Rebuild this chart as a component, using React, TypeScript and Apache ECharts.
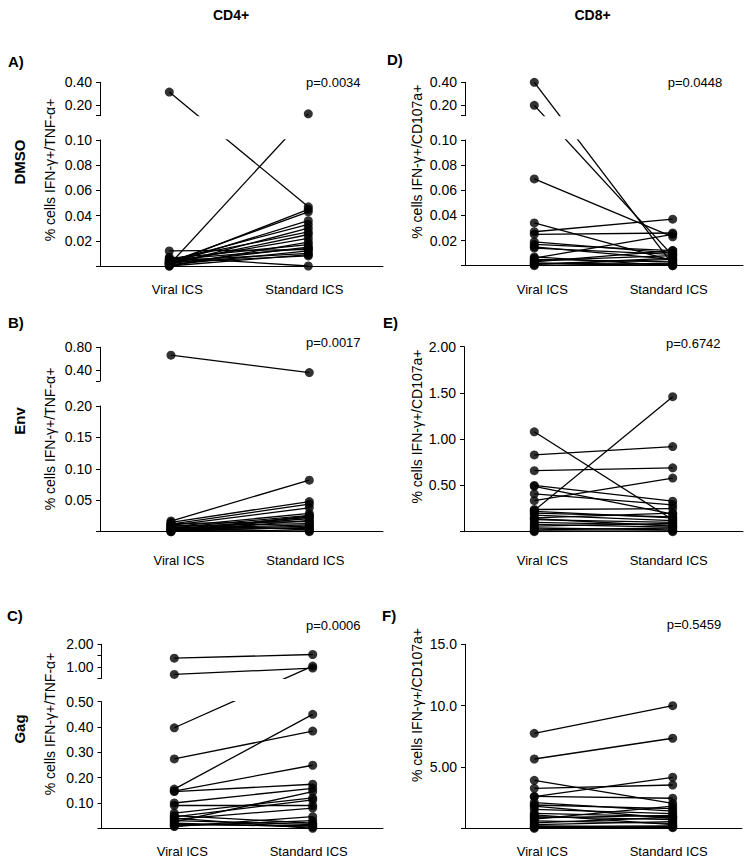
import React, { useEffect, useRef } from 'react';
import * as echarts from 'echarts';

// ---------- data ----------
const conditions = ['Viral ICS', 'Standard ICS'];
const columnLabels = ['CD4+', 'CD8+'];
const rowLabels = ['DMSO', 'Env', 'Gag'];
const panelLetters = ['A)', 'B)', 'C)', 'D)', 'E)', 'F)'];
const pValueLabels = ['p=0.0034', 'p=0.0017', 'p=0.0006', 'p=0.0448', 'p=0.6742', 'p=0.5459'];
const cd4AxisTitle = '% cells IFN-γ+/TNF-α+';
const cd8AxisTitle = '% cells IFN-γ+/CD107a+';

// A) DMSO, CD4+
const dmsoCd4Viral = [0.315, 0.001, 0.012, 0.003, 0.002, 0.004, 0.001, 0.005, 0.002, 0.003, 0.0, 0.006, 0.002, 0.001, 0.004, 0.003, 0.007, 0.002, 0.0, 0.005];
const dmsoCd4Standard = [0.047, 0.126, 0.013, 0.043, 0.036, 0.033, 0.03, 0.027, 0.025, 0.022, 0.019, 0.017, 0.015, 0.012, 0.01, 0.008, 0.0, 0.045, 0.009, 0.014];
// D) DMSO, CD8+
const dmsoCd8Viral = [0.4, 0.2, 0.069, 0.034, 0.027, 0.025, 0.019, 0.017, 0.015, 0.014, 0.007, 0.006, 0.005, 0.003, 0.002, 0.001, 0.0, 0.004, 0.002, 0.001];
const dmsoCd8Standard = [0.001, 0.008, 0.023, 0.004, 0.037, 0.026, 0.01, 0.012, 0.005, 0.009, 0.0, 0.025, 0.003, 0.012, 0.001, 0.005, 0.002, 0.008, 0.0, 0.006];
// B) Env, CD4+
const envCd4Viral = [0.66, 0.017, 0.015, 0.012, 0.01, 0.008, 0.006, 0.004, 0.002, 0.0, 0.013, 0.009, 0.005, 0.003, 0.001, 0.007, 0.011, 0.004, 0.002, 0.0];
const envCd4Standard = [0.35, 0.082, 0.048, 0.044, 0.038, 0.029, 0.026, 0.023, 0.021, 0.018, 0.016, 0.013, 0.011, 0.009, 0.007, 0.005, 0.003, 0.001, 0.0, 0.025];
// E) Env, CD8+
const envCd8Viral = [1.08, 0.23, 0.83, 0.66, 0.5, 0.49, 0.41, 0.335, 0.24, 0.2, 0.18, 0.15, 0.13, 0.1, 0.08, 0.06, 0.04, 0.02, 0.01, 0.0, 0.22, 0.14];
const envCd8Standard = [0.13, 1.46, 0.92, 0.69, 0.33, 0.19, 0.29, 0.58, 0.25, 0.16, 0.12, 0.2, 0.1, 0.07, 0.05, 0.09, 0.02, 0.04, 0.0, 0.01, 0.15, 0.06];
// C) Gag, CD4+
const gagCd4Viral = [1.39, 0.67, 0.397, 0.274, 0.155, 0.147, 0.145, 0.1, 0.09, 0.06, 0.045, 0.035, 0.03, 0.02, 0.01, 0.007, 0.04, 0.025, 0.015, 0.05];
const gagCd4Standard = [1.55, 0.95, 1.04, 0.384, 0.45, 0.249, 0.174, 0.158, 0.09, 0.12, 0.112, 0.08, 0.015, 0.005, 0.03, 0.046, 0.0, 0.145, 0.01, 0.02];
// F) Gag, CD8+
const gagCd8Viral = [7.74, 5.65, 3.91, 3.26, 2.58, 2.6, 1.9, 1.55, 1.22, 0.95, 0.75, 0.6, 0.45, 0.3, 0.15, 0.05, 1.8, 1.1, 0.85, 0.2, 0.0, 2.1];
const gagCd8Standard = [10.0, 7.34, 2.04, 3.53, 4.16, 2.45, 1.6, 1.2, 0.95, 0.7, 1.8, 0.4, 0.9, 0.55, 0.2, 0.1, 0.8, 0.3, 1.05, 0.05, 0.15, 1.4];

// tick values
const dmsoLowerTicks = [0, 0.02, 0.04, 0.06, 0.08, 0.1];
const dmsoUpperTicks = [0.2, 0.4];
const envCd4LowerTicks = [0, 0.05, 0.1, 0.15, 0.2];
const envCd4UpperTicks = [0.4, 0.8];
const gagCd4LowerTicks = [0, 0.1, 0.2, 0.3, 0.4, 0.5];
const gagCd4UpperTicks = [1.0, 2.0];
const envCd8Ticks = [0, 0.5, 1.0, 1.5, 2.0];
const gagCd8Ticks = [0, 5, 10, 15];

// ---------- layout ----------
const FONT = '"Liberation Sans", Arial, Helvetica, sans-serif';
const INK = '#000';
const fix2 = (v: number) => v.toFixed(2);
const prec3 = (v: number) => v.toPrecision(3);

type Seg = { min: number; max: number; bottomPx: number; topPx: number; ticks: number[]; labels: number[]; fmt: (v: number) => string };
type Panel = { viral: number[]; standard: number[]; axisX: number; xEnd: number; viralX: number; stdX: number; labelMargin: number; segs: Seg[] };

const panels: Panel[] = [
  {
    viral: dmsoCd4Viral, standard: dmsoCd4Standard, axisX: 100, xEnd: 383, viralX: 169.3, stdX: 308.3, labelMargin: 17,
    segs: [
      { min: 0, max: 0.1, bottomPx: 266, topPx: 140, ticks: dmsoLowerTicks, labels: dmsoLowerTicks.slice(1), fmt: fix2 },
      { min: 0.11, max: 0.4, bottomPx: 115.7, topPx: 82.3, ticks: [0.11, ...dmsoUpperTicks], labels: dmsoUpperTicks, fmt: fix2 },
    ],
  },
  {
    viral: envCd4Viral, standard: envCd4Standard, axisX: 100, xEnd: 383, viralX: 171, stdX: 309.3, labelMargin: 22,
    segs: [
      { min: 0, max: 0.2, bottomPx: 531.7, topPx: 406, ticks: envCd4LowerTicks, labels: envCd4LowerTicks.slice(1), fmt: fix2 },
      { min: 0.2, max: 0.8, bottomPx: 381, topPx: 347.3, ticks: [0.2, ...envCd4UpperTicks], labels: envCd4UpperTicks, fmt: fix2 },
    ],
  },
  {
    viral: gagCd4Viral, standard: gagCd4Standard, axisX: 101.5, xEnd: 383, viralX: 174.3, stdX: 312.7, labelMargin: 17,
    segs: [
      { min: 0, max: 0.5, bottomPx: 828.3, topPx: 701.7, ticks: gagCd4LowerTicks, labels: gagCd4LowerTicks.slice(1), fmt: fix2 },
      { min: 0.5, max: 2.0, bottomPx: 678.3, topPx: 644.3, ticks: [0.5, 1.5, ...gagCd4UpperTicks], labels: gagCd4UpperTicks, fmt: fix2 },
    ],
  },
  {
    viral: dmsoCd8Viral, standard: dmsoCd8Standard, axisX: 465, xEnd: 743, viralX: 534.3, stdX: 672.7, labelMargin: 17,
    segs: [
      { min: 0, max: 0.1, bottomPx: 265.7, topPx: 140, ticks: dmsoLowerTicks, labels: dmsoLowerTicks.slice(1), fmt: fix2 },
      { min: 0.11, max: 0.4, bottomPx: 115.7, topPx: 82.3, ticks: [0.11, ...dmsoUpperTicks], labels: dmsoUpperTicks, fmt: fix2 },
    ],
  },
  {
    viral: envCd8Viral, standard: envCd8Standard, axisX: 464, xEnd: 743, viralX: 534.3, stdX: 672.7, labelMargin: 22,
    segs: [{ min: 0, max: 2.0, bottomPx: 531.7, topPx: 346.7, ticks: envCd8Ticks, labels: envCd8Ticks.slice(1), fmt: fix2 }],
  },
  {
    viral: gagCd8Viral, standard: gagCd8Standard, axisX: 465, xEnd: 742, viralX: 534.3, stdX: 672.7, labelMargin: 17,
    segs: [{ min: 0, max: 15, bottomPx: 828.3, topPx: 644.3, ticks: gagCd8Ticks, labels: gagCd8Ticks.slice(1), fmt: prec3 }],
  },
];

const letterPos = [[8, 61.7], [8, 322], [7, 615], [387, 59], [383, 322], [382, 615]];
const pValuePos = [[306, 82.7], [306, 342.3], [306, 625], [667.7, 82], [666, 343.3], [666.7, 624]];
const yTitlePos = [[50, 170], [50, 439], [50, 724], [416.7, 161.7], [416.7, 426.5], [416.7, 705]];
const rowLabelPos = [[19, 162], [19, 421], [19, 729]];
const columnPos = [[231, 15], [592.5, 15]];

function buildOption() {
  const grid: any[] = [];
  const xAxis: any[] = [];
  const yAxis: any[] = [];
  const series: any[] = [];

  panels.forEach((p) => {
    const span = p.stdX - p.viralX;
    const xmin = -(p.viralX - p.axisX) / span;
    const xmax = 1 + (p.xEnd - p.stdX) / span;
    const segOf = (v: number) => (p.segs.length > 1 && v > p.segs[0].max ? 1 : 0);
    const pixelY = (v: number) => {
      const s = p.segs[segOf(v)];
      return s.bottomPx - ((v - s.min) / (s.max - s.min)) * (s.bottomPx - s.topPx);
    };
    const toAxis = (v: number, s: Seg) => s.min + ((s.bottomPx - pixelY(v)) / (s.bottomPx - s.topPx)) * (s.max - s.min);

    p.segs.forEach((s, si) => {
      const gi = grid.length;
      grid.push({ left: p.axisX, top: s.topPx, width: p.xEnd - p.axisX, height: s.bottomPx - s.topPx });
      xAxis.push({
        gridIndex: gi,
        type: 'value',
        min: xmin,
        max: xmax,
        show: si === 0,
        axisLine: { show: true, onZero: false, lineStyle: { color: INK, width: 1 } },
        axisTick: { show: false },
        splitLine: { show: false },
        axisLabel: {
          show: si === 0,
          customValues: [0, 1],
          margin: p.labelMargin,
          formatter: (v: number) => (v < 0.5 ? '{v|' + conditions[0] + '}' : '{s|' + conditions[1] + '}'),
          rich: {
            v: { fontFamily: FONT, fontSize: 13, color: INK, padding: [0, 0, 0, 16] },
            s: { fontFamily: FONT, fontSize: 13, color: INK, padding: [0, 8, 0, 0] },
          },
        },
      });
      yAxis.push({
        gridIndex: gi,
        type: 'value',
        min: s.min,
        max: s.max,
        axisLine: { show: true, onZero: false, lineStyle: { color: INK, width: 1 } },
        axisTick: { show: true, customValues: s.ticks, length: 4, lineStyle: { color: INK, width: 1 } },
        axisLabel: {
          customValues: s.labels,
          margin: 8,
          formatter: (v: number) => s.fmt(v),
          fontFamily: FONT,
          fontSize: 14,
          color: INK,
        },
        splitLine: { show: false },
      });
      p.viral.forEach((v, i) => {
        const w = p.standard[i];
        if (segOf(v) !== si && segOf(w) !== si) return;
        series.push({
          type: 'line',
          xAxisIndex: gi,
          yAxisIndex: gi,
          data: [[0, toAxis(v, s)], [1, toAxis(w, s)]],
          showSymbol: false,
          symbol: 'none',
          lineStyle: { color: INK, width: 1.3 },
          clip: true,
          silent: true,
          z: 2,
        });
      });
      const pts: number[][] = [];
      p.viral.forEach((v) => { if (segOf(v) === si) pts.push([0, v]); });
      p.standard.forEach((w) => { if (segOf(w) === si) pts.push([1, w]); });
      series.push({
        type: 'scatter',
        xAxisIndex: gi,
        yAxisIndex: gi,
        data: pts,
        symbol: 'circle',
        symbolSize: 9,
        itemStyle: { color: INK },
        clip: false,
        silent: true,
        z: 3,
      });
    });
  });

  const graphic: any[] = [];
  columnLabels.forEach((t, i) => {
    graphic.push({ type: 'text', x: columnPos[i][0], y: columnPos[i][1], style: { text: t, font: 'bold 14px ' + FONT, fill: INK, align: 'center', verticalAlign: 'middle' } });
  });
  rowLabels.forEach((t, i) => {
    graphic.push({ type: 'text', x: rowLabelPos[i][0], y: rowLabelPos[i][1], rotation: Math.PI / 2, style: { text: t, font: 'bold 15px ' + FONT, fill: INK, align: 'center', verticalAlign: 'middle' } });
  });
  panelLetters.forEach((t, i) => {
    graphic.push({ type: 'text', x: letterPos[i][0], y: letterPos[i][1], style: { text: t, font: 'bold 15px ' + FONT, fill: INK, align: 'left', verticalAlign: 'middle' } });
  });
  pValueLabels.forEach((t, i) => {
    graphic.push({ type: 'text', x: pValuePos[i][0], y: pValuePos[i][1], style: { text: t, font: '13px ' + FONT, fill: INK, align: 'left', verticalAlign: 'middle' } });
  });
  yTitlePos.forEach((pos, i) => {
    graphic.push({ type: 'text', x: pos[0], y: pos[1], rotation: Math.PI / 2, style: { text: i < 3 ? cd4AxisTitle : cd8AxisTitle, font: '14px ' + FONT, fill: INK, align: 'center', verticalAlign: 'middle' } });
  });

  return {
    animation: false,
    backgroundColor: '#fff',
    grid,
    xAxis,
    yAxis,
    series,
    graphic,
  };
}

export default function App() {
  const ref = useRef<HTMLDivElement>(null);
  useEffect(() => {
    if (!ref.current) return;
    const chart = echarts.init(ref.current, null, { renderer: 'svg', width: 751, height: 866 });
    chart.setOption(buildOption());
    return () => chart.dispose();
  }, []);
  return <div ref={ref} style={{ position: 'absolute', left: 0, top: 0, width: 751, height: 866, background: '#fff' }} />;
}
